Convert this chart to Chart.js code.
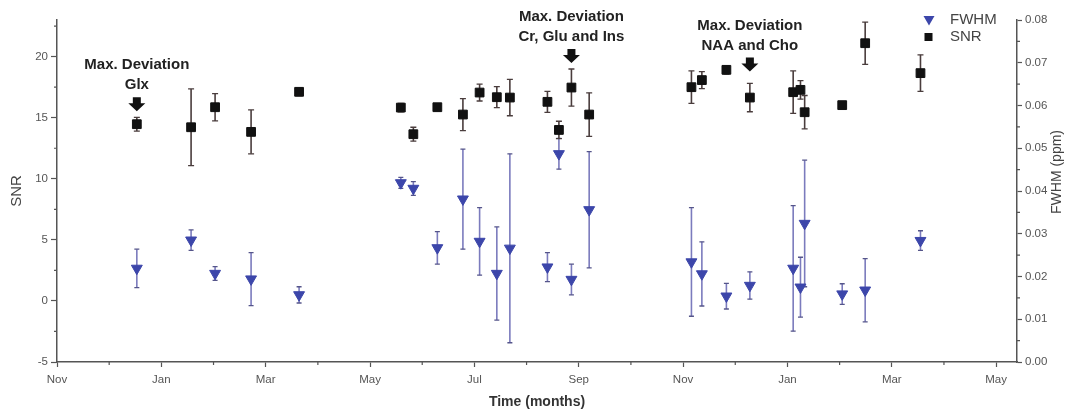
<!DOCTYPE html>
<html>
<head>
<meta charset="utf-8">
<script src="https://cdn.jsdelivr.net/npm/chart.js@4/dist/chart.umd.min.js"></script>
<style>
  html, body { margin: 0; padding: 0; background: #fff; }
  #wrap { width: 1070px; height: 411px; }
</style>
</head>
<body>
<div id="wrap"><canvas id="chart" width="1070" height="411"></canvas></div>
<script>
// x = months counted from the first November on the axis
const months = [1.53, 2.57, 3.03, 3.72, 4.64, 6.59, 6.83, 7.29, 7.78, 8.10, 8.43, 8.68, 9.40,
                9.62, 9.86, 10.20, 12.16, 12.36, 12.83, 13.28, 14.11, 14.25, 14.33, 15.05, 15.49, 16.55];
const snr    = [14.47, 14.22, 15.86, 13.84, 17.12, 15.83, 13.65, 15.86, 15.26, 17.06, 16.68, 16.65, 16.30,
                14.00, 17.47, 15.26, 17.50, 18.08, 18.92, 16.65, 17.09, 17.28, 15.45, 16.03, 21.10, 18.65];
const snrErr = [0.56, 3.14, 1.12, 1.80, 0.31, 0.35, 0.57, 0.30, 1.31, 0.69, 0.86, 1.49, 0.86,
                0.71, 1.52, 1.78, 1.33, 0.70, 0.35, 1.16, 1.74, 0.76, 1.37, 0, 1.73, 1.50];
const fwhm   = [0.0219, 0.0285, 0.0207, 0.0194, 0.0157, 0.0419, 0.0406, 0.0267, 0.0381, 0.0282, 0.0207, 0.0266, 0.0222,
                0.0487, 0.0193, 0.0356, 0.0234, 0.0206, 0.0154, 0.0179, 0.0219, 0.0175, 0.0324, 0.0159, 0.0168, 0.0284];
const fwhmErr = [0.0045, 0.0024, 0.0016, 0.0062, 0.0019, 0.0013, 0.0016, 0.0038, 0.0117, 0.0079, 0.0109, 0.0221, 0.0034,
                 0.0036, 0.0036, 0.0136, 0.0127, 0.0075, 0.0030, 0.0032, 0.0147, 0.0070, 0.0148, 0.0024, 0.0074, 0.0023];
const monthLabels = ['Nov', 'Jan', 'Mar', 'May', 'Jul', 'Sep', 'Nov', 'Jan', 'Mar', 'May'];

// the points that get a "Max. Deviation" note
const noteIndex = [0, 14, 19];
const noteText = [['Max. Deviation', 'Glx'], ['Max. Deviation', 'Cr, Glu and Ins'], ['Max. Deviation', 'NAA and Cho']];

const FONT = '"Liberation Sans", Arial, sans-serif';
const AXIS = '#555';
const BLUE = '#3c46aa';

const errorBars = {
    id: 'errorBars',
    beforeDatasetsDraw(chart) {
        const { ctx, scales } = chart;
        const x = scales.x;
        const draw = (vals, errs, scale, line, cap, capW) => {
            vals.forEach((v, i) => {
                if (!errs[i]) return;
                const px = x.getPixelForValue(months[i]);
                const top = scale.getPixelForValue(v + errs[i]);
                const bot = scale.getPixelForValue(v - errs[i]);
                ctx.strokeStyle = line;
                ctx.lineWidth = 1.6;
                ctx.beginPath();
                ctx.moveTo(px, top); ctx.lineTo(px, bot);
                ctx.stroke();
                ctx.strokeStyle = cap;
                ctx.lineWidth = 1.3;
                ctx.beginPath();
                ctx.moveTo(px - capW, top); ctx.lineTo(px + capW, top);
                ctx.moveTo(px - capW, bot); ctx.lineTo(px + capW, bot);
                ctx.stroke();
            });
        };
        ctx.save();
        draw(fwhm, fwhmErr, scales.yR, '#7b7bbd', '#55558a', 2.5);
        draw(snr, snrErr, scales.y, '#4a3d3d', '#4a3d3d', 3);
        ctx.restore();
    }
};

const extras = {
    id: 'extras',
    afterDraw(chart) {
        const { ctx, scales } = chart;
        const x = scales.x, y = scales.y, yR = scales.yR;
        ctx.save();

        // minor ticks
        ctx.strokeStyle = AXIS;
        ctx.lineWidth = 1.2;
        ctx.beginPath();
        for (let m = 1; m < 18.4; m += 2) {
            const px = x.getPixelForValue(m);
            ctx.moveTo(px, x.top); ctx.lineTo(px, x.top + 3);
        }
        for (let v = -2.5; v < 23; v += 5) {
            const py = y.getPixelForValue(v);
            ctx.moveTo(y.right, py); ctx.lineTo(y.right - 3, py);
        }
        for (let v = 0.005; v < 0.08; v += 0.01) {
            const py = yR.getPixelForValue(v);
            ctx.moveTo(yR.left, py); ctx.lineTo(yR.left + 3, py);
        }
        ctx.stroke();

        // right axis title, reading bottom to top
        ctx.fillStyle = '#444';
        ctx.font = '14px ' + FONT;
        ctx.textAlign = 'center';
        ctx.textBaseline = 'middle';
        ctx.translate(1057, 172);
        ctx.rotate(-Math.PI / 2);
        ctx.fillText('FWHM (ppm)', 0, 0);
        ctx.setTransform(1, 0, 0, 1, 0, 0);

        // legend
        ctx.fillStyle = BLUE;
        ctx.beginPath();
        ctx.moveTo(923.5, 16); ctx.lineTo(934.5, 16); ctx.lineTo(929, 25.5);
        ctx.closePath(); ctx.fill();
        ctx.fillStyle = '#111';
        ctx.fillRect(924.5, 33, 8, 8);
        ctx.fillStyle = '#444';
        ctx.font = '15px ' + FONT;
        ctx.textAlign = 'left';
        ctx.fillText('FWHM', 950, 20);
        ctx.fillText('SNR', 950, 37);

        // "Max. Deviation" notes with down arrows
        noteIndex.forEach((idx, k) => {
            const px = x.getPixelForValue(months[idx]);
            const tip = y.getPixelForValue(snr[idx] + snrErr[idx]) - (k === 2 ? 12 : 6);
            ctx.fillStyle = '#111';
            ctx.beginPath();
            ctx.moveTo(px - 4, tip - 14);
            ctx.lineTo(px + 4, tip - 14);
            ctx.lineTo(px + 4, tip - 8);
            ctx.lineTo(px + 8.5, tip - 8);
            ctx.lineTo(px, tip);
            ctx.lineTo(px - 8.5, tip - 8);
            ctx.lineTo(px - 4, tip - 8);
            ctx.closePath();
            ctx.fill();
            ctx.fillStyle = '#222';
            ctx.font = 'bold 15px ' + FONT;
            ctx.textAlign = 'center';
            ctx.fillText(noteText[k][0], px, tip - 46);
            ctx.fillText(noteText[k][1], px, tip - 26);
        });
        ctx.restore();
    }
};

const tickFont = { family: FONT, size: 11.5 };

new Chart(document.getElementById('chart').getContext('2d'), {
    type: 'scatter',
    data: {
        datasets: [
            {
                label: 'FWHM',
                data: months.map((m, i) => ({ x: m, y: fwhm[i] })),
                yAxisID: 'yR',
                pointStyle: 'triangle',
                rotation: 180,
                radius: 6.3,
                backgroundColor: BLUE,
                borderColor: BLUE,
                borderWidth: 1
            },
            {
                label: 'SNR',
                data: months.map((m, i) => ({ x: m, y: snr[i] })),
                yAxisID: 'y',
                pointStyle: 'rect',
                radius: 6.2,
                backgroundColor: '#111',
                borderColor: '#111',
                borderWidth: 1
            }
        ]
    },
    options: {
        responsive: false,
        animation: false,
        layout: { padding: { top: 20 } },
        plugins: { legend: { display: false }, tooltip: { enabled: false } },
        scales: {
            x: {
                type: 'linear',
                position: 'bottom',
                min: 0,
                max: 18.4,
                afterFit: s => { s.height = 49; },
                grid: { drawOnChartArea: false, tickLength: 5, tickColor: AXIS, tickWidth: 1.2 },
                border: { color: AXIS, width: 1.5 },
                ticks: {
                    stepSize: 2, includeBounds: false, autoSkip: false, maxRotation: 0, padding: 6,
                    color: AXIS, font: tickFont,
                    callback: v => monthLabels[Math.round(v / 2)] ?? ''
                },
                title: {
                    display: true, text: 'Time (months)', color: '#333',
                    font: { family: FONT, size: 14, weight: 'bold' }, padding: { top: 0, bottom: 0 }
                }
            },
            y: {
                position: 'left',
                min: -5,
                max: 23,
                afterFit: s => { s.width = 57; },
                grid: { drawOnChartArea: false, tickLength: 6, tickColor: AXIS, tickWidth: 1.2 },
                border: { color: AXIS, width: 1.5 },
                ticks: { stepSize: 5, includeBounds: false, padding: 3, color: AXIS, font: tickFont },
                title: {
                    display: true, text: 'SNR', color: '#444',
                    font: { family: FONT, size: 15 }, padding: { top: 8, bottom: 0 }
                }
            },
            yR: {
                position: 'right',
                min: 0,
                max: 0.08,
                afterFit: s => { s.width = 53; },
                grid: { drawOnChartArea: false, tickLength: 5, tickColor: AXIS, tickWidth: 1.2 },
                border: { color: AXIS, width: 1.5 },
                ticks: {
                    stepSize: 0.01, includeBounds: false, padding: 3, color: AXIS, font: tickFont,
                    callback: v => v.toFixed(2)
                }
            }
        }
    },
    plugins: [errorBars, extras]
});
</script>
</body>
</html>
